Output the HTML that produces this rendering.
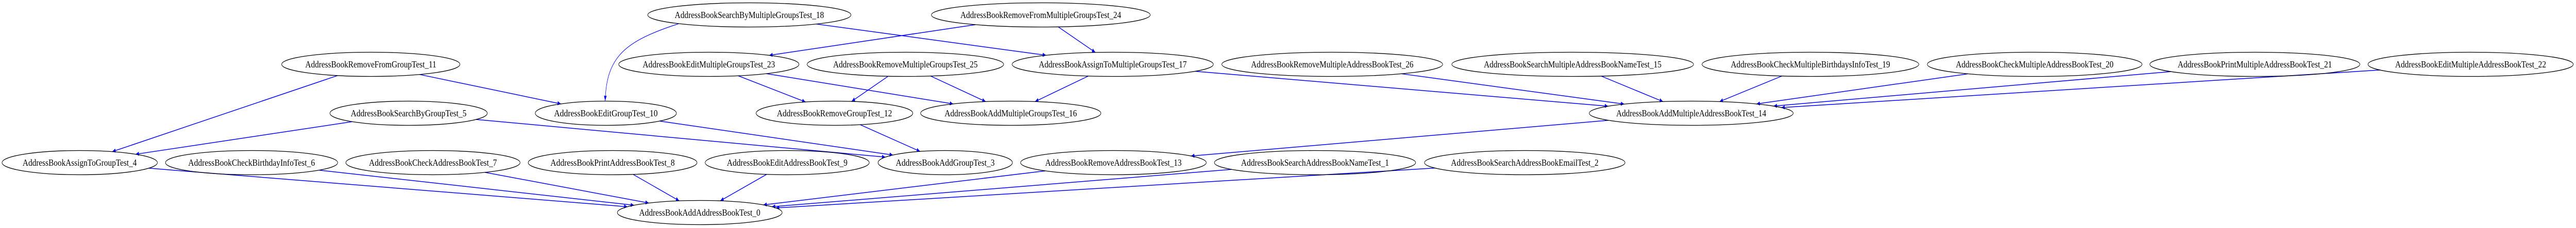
<!DOCTYPE html>
<html><head><meta charset="utf-8"><style>html,body{margin:0;padding:0;background:#fff;width:100%;height:100%;overflow:hidden}svg{display:block;position:fixed;left:0;top:0;width:100vw;height:100vh}</style></head>
<body>
<svg id="g" xmlns="http://www.w3.org/2000/svg" viewBox="0 0 7628 443" preserveAspectRatio="none">
<defs><marker id="a" markerWidth="10" markerHeight="8" refX="10" refY="4" orient="auto" markerUnits="userSpaceOnUse"><path d="M0,0 L10,4 L0,8 z" fill="#0000ff"/></marker></defs>
<g id="e"></g><g id="n"></g>
</svg>
<script>
var Y=[29,125,220,316,413],RY=23.5;
var N={
"11":["AddressBookRemoveFromGroupTest_11",1098,1,264],
"5":["AddressBookSearchByGroupTest_5",1210,2,233],
"10":["AddressBookEditGroupTest_10",1794,2,209],
"4":["AddressBookAssignToGroupTest_4",236,3,230],
"6":["AddressBookCheckBirthdayInfoTest_6",745,3,255],
"7":["AddressBookCheckAddressBookTest_7",1282,3,258],
"8":["AddressBookPrintAddressBookTest_8",1814,3,250],
"0":["AddressBookAddAddressBookTest_0",2072,4,244],
"18":["AddressBookSearchByMultipleGroupsTest_18",2219,0,301],
"24":["AddressBookRemoveFromMultipleGroupsTest_24",3082,0,324],
"23":["AddressBookEditMultipleGroupsTest_23",2099,1,267],
"25":["AddressBookRemoveMultipleGroupsTest_25",2681,1,291],
"17":["AddressBookAssignToMultipleGroupsTest_17",3295,1,298],
"26":["AddressBookRemoveMultipleAddressBookTest_26",3945,1,327],
"12":["AddressBookRemoveGroupTest_12",2471,2,232],
"16":["AddressBookAddMultipleGroupsTest_16",2993,2,267],
"9":["AddressBookEditAddressBookTest_9",2331,3,243],
"3":["AddressBookAddGroupTest_3",2799,3,199],
"13":["AddressBookRemoveAddressBookTest_13",3297,3,275],
"1":["AddressBookSearchAddressBookNameTest_1",3894,3,298],
"15":["AddressBookSearchMultipleAddressBookNameTest_15",4657,1,358],
"19":["AddressBookCheckMultipleBirthdaysInfoTest_19",5361,1,321],
"14":["AddressBookAddMultipleAddressBookTest_14",5008,2,302],
"2":["AddressBookSearchAddressBookEmailTest_2",4515,3,297],
"20":["AddressBookCheckMultipleAddressBookTest_20",6025,1,318],
"21":["AddressBookPrintMultipleAddressBookTest_21",6677,1,311],
"22":["AddressBookEditMultipleAddressBookTest_22",7316,1,304]};
var E=[["18","17"],["24","23"],["24","17"],["11","4"],["11","10"],["5","4"],["5","3"],["10","3"],["23","12"],["23","16"],["25","12"],["25","16"],["17","16"],["17","14"],["26","14"],["15","14"],["19","14"],["20","14"],["21","14"],["22","14"],["14","13"],["12","3"],["4","0"],["6","0"],["7","0"],["8","0"],["9","0"],["13","0"],["1","0"],["2","0"]];
var S="http://www.w3.org/2000/svg",ge=document.getElementById("e"),gn=document.getElementById("n");
function el(t,a,p){var e=document.createElementNS(S,t);for(var k in a)e.setAttribute(k,a[k]);p.appendChild(e);return e;}
function clip(n,dx,dy){var rx=n[3],t=1/Math.sqrt((dx/rx)*(dx/rx)+(dy/RY)*(dy/RY));return [n[1]+dx*t,Y[n[2]]+dy*t];}
E.forEach(function(p){var s=N[p[0]],t=N[p[1]];var dx=t[1]-s[1],dy=Y[t[2]]-Y[s[2]];
var a=clip(s,dx,dy),b=clip(t,-dx,-dy);
el("line",{x1:a[0],y1:a[1],x2:b[0],y2:b[1],stroke:"#0000ff","stroke-width":1.5,"marker-end":"url(#a)"},ge);});
el("path",{d:"M2010,46 C1850,80 1796,110 1792,196",fill:"none",stroke:"#0000ff","stroke-width":1.2,"marker-end":"url(#a)"},ge);
for(var k in N){var n=N[k];var cy=Y[n[2]];
el("ellipse",{cx:n[1],cy:cy,rx:n[3],ry:RY,fill:"none",stroke:"#000","stroke-width":1.3},gn);
var tx=el("text",{x:n[1],y:cy+6,"text-anchor":"middle","font-family":"Liberation Serif, serif","font-size":18,textLength:Math.round(n[3]*2*0.735),lengthAdjust:"spacingAndGlyphs"},gn);
tx.textContent=n[0];}
</script>
</body></html>
